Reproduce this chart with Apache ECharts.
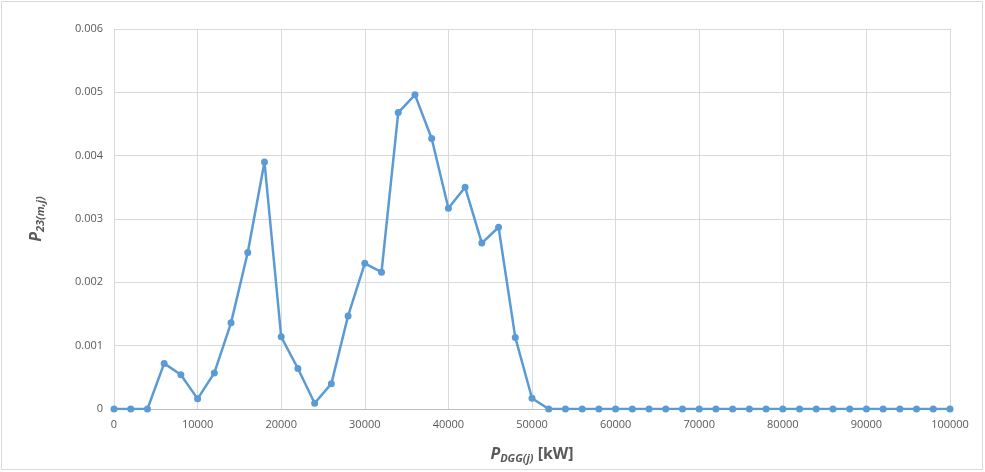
<!DOCTYPE html>
<html><head><meta charset="utf-8">
<script src="https://cdn.jsdelivr.net/npm/echarts@6/dist/echarts.min.js"></script>
<style>html,body{margin:0;padding:0;background:#fff}#c{width:985px;height:472px}</style>
</head><body><div id="c"></div>
<script>
var xValues = [0,2000,4000,6000,8000,10000,12000,14000,16000,18000,20000,22000,24000,26000,28000,30000,32000,34000,36000,38000,40000,42000,44000,46000,48000,50000,52000,54000,56000,58000,60000,62000,64000,66000,68000,70000,72000,74000,76000,78000,80000,82000,84000,86000,88000,90000,92000,94000,96000,98000,100000];
var yValues = [0,0,0,0.00072,0.00054,0.00016,0.00057,0.00136,0.00247,0.0039,0.00114,0.00064,0.00009,0.0004,0.00147,0.0023,0.00216,0.00468,0.00496,0.00427,0.00317,0.0035,0.00262,0.00287,0.00113,0.00017,0,0,0,0,0,0,0,0,0,0,0,0,0,0,0,0,0,0,0,0,0,0,0,0,0];
var chart = echarts.init(document.getElementById('c'));
var pts = xValues.map(function(x,i){return [x, yValues[i]];});
var font = 'Open Sans, Liberation Sans, sans-serif';
chart.setOption({
  animation:false,
  backgroundColor:'#fff',
  graphic:[{type:'rect',shape:{x:1.5,y:1.5,width:981,height:468},style:{fill:'none',stroke:'#d9d9d9',lineWidth:1}}],
  grid:{left:114,right:35,top:29,bottom:63},
  xAxis:{type:'value',min:0,max:100000,interval:10000,
    axisLine:{show:true,lineStyle:{color:'#bfbfbf'}},axisTick:{show:false},
    splitLine:{show:true,lineStyle:{color:'#d9d9d9'}},
    axisLabel:{color:'#595959',fontSize:11,fontFamily:font,margin:10,
      formatter:function(v){return String(v);}},
    name:'{p|P}{s|DGG(j)}{k| [kW]}',nameLocation:'middle',nameGap:36,
    nameTextStyle:{rich:{
      p:{fontSize:16,fontWeight:'bold',fontStyle:'italic',color:'#595959',fontFamily:font},
      s:{fontSize:11,fontWeight:'bold',fontStyle:'italic',color:'#595959',fontFamily:font,padding:[8,0,0,0]},
      k:{fontSize:16,fontWeight:'bold',color:'#595959',fontFamily:font}}}
  },
  yAxis:{type:'value',min:0,max:0.006,interval:0.001,
    axisLine:{show:false},axisTick:{show:false},
    splitLine:{show:true,lineStyle:{color:'#d9d9d9'}},
    axisLabel:{color:'#595959',fontSize:11,fontFamily:font,margin:11,
      formatter:function(v){return v===0?'0':v.toFixed(3);}},
    name:'{p|P}{s|23(m,j)}',nameLocation:'middle',nameGap:68,nameRotate:90,
    nameTextStyle:{rich:{
      p:{fontSize:16,fontWeight:'bold',fontStyle:'italic',color:'#595959',fontFamily:font},
      s:{fontSize:11,fontWeight:'bold',fontStyle:'italic',color:'#595959',fontFamily:font,padding:[8,0,0,0]}}}
  },
  series:[{type:'line',data:pts,symbol:'circle',symbolSize:7,
    lineStyle:{color:'#5b9bd5',width:2.5},itemStyle:{color:'#5b9bd5'}}]
});
</script></body></html>
